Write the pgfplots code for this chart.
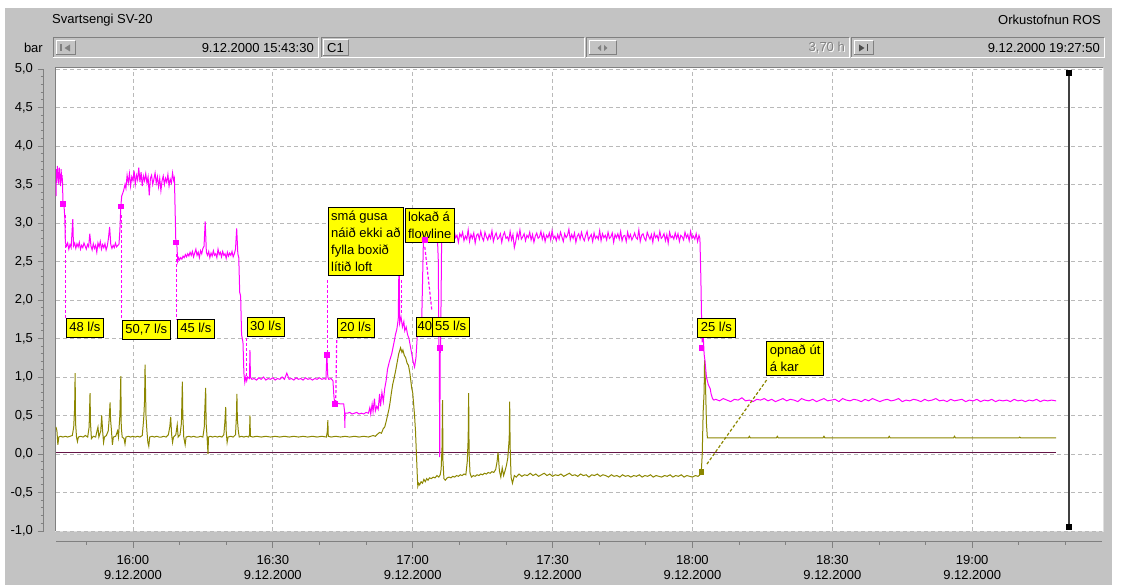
\documentclass[border=0pt]{standalone}
\usepackage{pgfplots}
\pgfplotsset{compat=1.18}
\usepackage{fontspec}
\setmainfont{Liberation Sans}
\definecolor{wgray}{RGB}{195,195,195}
\definecolor{pinkc}{RGB}{255,0,255}
\definecolor{olivec}{RGB}{140,135,0}
\definecolor{purp}{RGB}{100,20,70}
\definecolor{gridc}{RGB}{185,185,185}
\definecolor{darkg}{RGB}{128,128,128}
\definecolor{lblyel}{RGB}{255,255,0}
\newcommand\sunk[4]{\draw[darkg,line width=1pt] (#1,#4)--(#1,#2)--(#3,#2); \draw[white,line width=1pt] (#3,#2)--(#3,#4)--(#1,#4);}
\newcommand\rais[4]{\draw[white,line width=1pt] (#1,#4)--(#1,#2)--(#3,#2); \draw[darkg,line width=1pt] (#3,#2)--(#3,#4)--(#1,#4);}
\begin{document}
\begin{tikzpicture}[font=\fontsize{13}{16}\selectfont,
  lbl/.style={fill=lblyel, draw=black, line width=0.8pt, inner xsep=3pt, inner ysep=3.5pt, text height=9.5pt, text depth=2.5pt, anchor=north west},
  lblm/.style={fill=lblyel, draw=black, line width=0.8pt, inner xsep=3pt, inner ysep=3.5pt, align=left, anchor=north west, font=\fontsize{13}{17}\selectfont},
  conn/.style={line width=1.2pt, dash pattern=on 3pt off 2pt}]
\begin{scope}[x=1pt,y=-1pt,shift={(0pt,585pt)}]
 \fill[white] (0,0) rectangle (1128,585);
 \fill[wgray] (5,8) rectangle (1112,585);
 \node[anchor=west, inner sep=0pt] at (52,20) {Svartsengi SV-20};
 \node[anchor=east, inner sep=0pt] at (1101,20) {Orkustofnun ROS};
 \node[anchor=east, inner sep=0pt] at (43,48) {bar};
 % box 1
 \sunk{53}{38}{318}{58}
 \rais{56}{41}{75}{55}
 \draw[darkg, line width=1.2pt] (61,44.5)--(61,51.5);
 \fill[darkg] (70,44.5)--(64.5,48)--(70,51.5)--cycle;
 \node[anchor=east, inner sep=0pt] at (314,48) {9.12.2000 15:43:30};
 % box 2
 \sunk{321}{38}{584}{58}
 \rais{323}{40}{348}{56}
 \node[inner sep=0pt] at (335.5,48) {C1};
 % box 3
 \sunk{586}{38}{849}{58}
 \rais{589}{41}{616}{55}
 \fill[darkg] (601,45)--(597.5,48)--(601,51)--cycle;
 \fill[darkg] (604,45)--(607.5,48)--(604,51)--cycle;
 \node[anchor=east, inner sep=0pt, white] at (846,49) {3,70 h};
 \node[anchor=east, inner sep=0pt, darkg] at (845,48) {3,70 h};
 % box 4
 \sunk{851}{38}{1104}{58}
 \rais{854}{41}{873}{55}
 \fill[black!70] (859,44.5)--(864.5,48)--(859,51.5)--cycle;
 \draw[black!70, line width=1.2pt] (867.5,44.5)--(867.5,51.5);
 \node[anchor=east, inner sep=0pt] at (1100,48) {9.12.2000 19:27:50};
 % plot area
 \fill[white] (55,68) rectangle (1103,532);
 \draw[darkg,line width=1pt] (55,532)--(55,68)--(1103,68);
 \draw[gray!25,line width=1pt] (1103,68)--(1103,532)--(55,532);
\end{scope}
\begin{axis}[
  at={(56pt,54pt)}, anchor=south west, scale only axis,
  width=1046pt, height=462pt,
  xmin=43.5, xmax=267.8333, ymin=-1, ymax=5,
  clip=false,
  axis x line*=bottom, axis y line*=left,
  axis x line shift=11pt, axis y line shift=12pt,
  axis line style={darkg, line width=1pt, -},
  x axis line style={-}, y axis line style={-},
  xtick={60,90,120,150,180,210,240},
  xticklabels={{16:00\\9.12.2000},{16:30\\9.12.2000},{17:00\\9.12.2000},{17:30\\9.12.2000},{18:00\\9.12.2000},{18:30\\9.12.2000},{19:00\\9.12.2000}},
  minor xtick={50,70,80,100,110,130,140,160,170,190,200,220,230,250,260},
  ytick={-1,-0.5,0,0.5,1,1.5,2,2.5,3,3.5,4,4.5,5},
  yticklabels={{-1,0},{-0,5},{0,0},{0,5},{1,0},{1,5},{2,0},{2,5},{3,0},{3,5},{4,0},{4,5},{5,0}},
  minor y tick num=4,
  tick align=outside, major tick length=6pt, minor tick length=3pt,
  tick style={darkg, line width=0.8pt},
  tick label style={font=\fontsize{13}{15}\selectfont},
  xticklabel style={align=center, yshift=-4pt},
  yticklabel style={xshift=-1.5pt},
  grid=major,
  major grid style={gridc, line width=0.8pt, dash pattern=on 4pt off 3pt},
]
% zero reference line
\addplot[purp, line width=1pt] coordinates {(43.5,0.02) (258,0.02)};
% olive series
\addplot[olivec, line width=1pt] coordinates {
(43.5,0.35)(43.7,0.30)(43.9,0.12)(44.1,0.22)(44.5,0.23)(45.0,0.22)(45.5,0.23)(46.0,0.22)(46.5,0.23)(47.0,0.24)
(47.3,0.35)(47.5,0.60)(47.6,1.05)(47.7,0.40)(47.9,0.22)(48.1,0.16)(48.3,0.22)(48.8,0.23)(49.3,0.22)(49.8,0.24)
(50.3,0.22)(50.6,0.35)(50.8,0.79)(50.9,0.40)(51.1,0.20)(51.5,0.23)(52.0,0.22)(52.3,0.30)(52.5,0.35)(52.7,0.22)
(53.1,0.30)(53.3,0.50)(53.5,0.30)(53.7,0.15)(53.9,0.22)(54.3,0.24)(54.7,0.30)(54.9,0.45)(55.1,0.67)(55.2,0.45)
(55.4,0.30)(55.6,0.12)(55.8,0.22)(56.3,0.23)(56.7,0.30)(56.9,0.22)(57.2,0.50)(57.4,1.01)(57.5,0.35)(57.7,0.22)
(58.1,0.20)(58.3,0.13)(58.5,0.22)(59.0,0.23)(59.5,0.22)(60.0,0.23)(60.5,0.22)(61.0,0.23)(61.5,0.22)(62.0,0.24)
(62.3,0.45)(62.5,0.70)(62.6,1.16)(62.8,0.50)(63.0,0.30)(63.2,0.15)(63.4,0.10)(63.6,0.22)(64.1,0.23)(64.6,0.22)
(65.1,0.23)(65.6,0.22)(66.1,0.22)(66.6,0.23)(67.1,0.22)(67.6,0.25)(67.9,0.35)(68.1,0.48)(68.3,0.25)(68.5,0.15)
(68.7,0.22)(69.2,0.25)(69.5,0.38)(69.7,0.22)(70.1,0.25)(70.4,0.40)(70.6,0.94)(70.7,0.50)(70.9,0.22)(71.2,0.12)
(71.4,0.22)(72.0,0.23)(72.5,0.22)(73.0,0.23)(73.5,0.22)(74.0,0.22)(74.5,0.23)(75.0,0.22)(75.3,0.35)(75.4,0.55)
(75.6,0.86)(75.7,0.40)(75.9,0.22)(76.1,0.00)(76.2,0.22)(76.6,0.23)(77.1,0.22)(77.6,0.23)(78.1,0.22)(78.6,0.23)
(79.1,0.22)(79.5,0.25)(79.7,0.40)(79.9,0.61)(80.0,0.30)(80.2,0.15)(80.4,0.22)(81.0,0.23)(81.5,0.22)(82.0,0.25)
(82.2,0.50)(82.3,0.78)(82.4,0.45)(82.6,0.30)(82.8,0.22)(83.3,0.23)(83.8,0.22)(84.3,0.23)(84.8,0.22)(85.0,0.25)
(85.1,0.50)(85.2,0.23)(85.7,0.22)(86.5,0.23)(87.5,0.22)(88.5,0.23)(89.5,0.22)(90.5,0.23)(91.5,0.22)(92.5,0.23)
(93.5,0.22)(94.5,0.23)(95.5,0.22)(96.5,0.23)(97.5,0.22)(98.5,0.23)(99.5,0.22)(100.5,0.23)(101.5,0.22)(101.7,0.30)
(101.8,0.44)(101.9,0.23)(102.5,0.22)(103.5,0.23)(104.5,0.22)(105.5,0.23)(106.5,0.22)(107.5,0.23)(108.5,0.22)(109.5,0.23)
(110.5,0.22)(111.5,0.24)(112.0,0.23)(112.5,0.26)(112.9,0.28)(113.3,0.27)(113.7,0.33)(114.0,0.35)(114.3,0.42)(114.6,0.50)
(114.9,0.58)(115.1,0.65)(115.4,0.78)(115.7,0.90)(116.0,0.98)(116.4,1.10)(116.7,1.20)(117.0,1.30)(117.4,1.38)(117.7,1.32)
(117.9,1.35)(118.2,1.28)(118.5,1.25)(118.8,1.18)(119.1,1.15)(119.4,1.05)(119.6,0.95)(119.8,0.85)(120.0,0.80)(120.2,0.65)
(120.4,0.50)(120.6,0.30)(120.8,0.00)(121.0,-0.30)(121.1,-0.42)(121.3,-0.38)(121.5,-0.40)(121.8,-0.36)(122.1,-0.38)(122.4,-0.33)
(122.7,-0.36)(123.0,-0.32)(123.3,-0.34)(123.6,-0.31)(124.0,-0.32)(124.4,-0.30)(124.8,-0.31)(125.2,-0.28)(125.6,-0.30)(125.9,-0.27)
(126.1,-0.20)(126.3,0.10)(126.4,0.70)(126.5,-0.10)(126.7,-0.32)(127.0,-0.34)(127.4,-0.31)(127.8,-0.30)(128.2,-0.31)(128.6,-0.29)
(129.0,-0.30)(129.4,-0.28)(129.8,-0.29)(130.2,-0.27)(130.6,-0.28)(131.0,-0.26)(131.4,-0.27)(131.7,-0.10)(131.9,0.20)(132.0,0.79)
(132.1,0.00)(132.3,-0.25)(132.6,-0.30)(133.0,-0.28)(133.4,-0.29)(133.8,-0.27)(134.2,-0.28)(134.6,-0.26)(135.0,-0.27)(135.4,-0.25)
(135.8,-0.26)(136.2,-0.24)(136.6,-0.25)(137.0,-0.23)(137.4,-0.24)(137.8,-0.20)(138.1,-0.10)(138.3,0.02)(138.4,-0.05)(138.6,-0.22)
(138.9,-0.30)(139.2,-0.18)(139.5,-0.28)(139.8,-0.22)(140.1,-0.15)(140.4,-0.05)(140.7,0.20)(140.8,0.68)(140.9,0.10)(141.1,-0.30)
(141.4,-0.38)(141.8,-0.28)(142.2,-0.30)(142.8,-0.26)(143.4,-0.29)(144.0,-0.27)(144.6,-0.28)(145.2,-0.25)(145.8,-0.28)(146.4,-0.26)
(147.0,-0.29)(147.6,-0.27)(148.2,-0.25)(148.8,-0.28)(149.4,-0.26)(150.0,-0.29)(150.6,-0.27)(151.2,-0.28)(151.8,-0.26)(152.4,-0.29)
(153.0,-0.27)(153.6,-0.25)(154.2,-0.28)(154.8,-0.27)(155.4,-0.29)(156.0,-0.26)(156.6,-0.28)(157.2,-0.27)(157.8,-0.30)(158.4,-0.27)
(159.0,-0.28)(159.6,-0.26)(160.2,-0.29)(160.8,-0.27)(161.4,-0.28)(162.0,-0.30)(162.6,-0.27)(163.2,-0.29)(163.8,-0.28)(164.4,-0.30)
(165.0,-0.27)(165.6,-0.29)(166.2,-0.28)(166.8,-0.30)(167.4,-0.28)(168.0,-0.29)(168.6,-0.27)(169.2,-0.30)(169.8,-0.28)(170.4,-0.29)
(171.0,-0.27)(171.6,-0.30)(172.2,-0.28)(172.8,-0.29)(173.4,-0.30)(174.0,-0.28)(174.6,-0.29)(175.2,-0.27)(175.8,-0.30)(176.4,-0.28)
(177.0,-0.29)(177.6,-0.27)(178.2,-0.30)(178.8,-0.28)(179.4,-0.29)(180.0,-0.30)(180.6,-0.28)(181.2,-0.29)(181.6,-0.27)(181.9,-0.23)
(182.1,0.00)(182.3,0.55)(182.5,0.80)(182.6,1.22)(182.8,0.90)(183.0,0.40)(183.2,0.21)(186,0.21)(190,0.21)(192.0,0.21)(192.2,0.23)(192.4,0.21)
(196,0.21)(198.0,0.21)(198.2,0.23)(198.4,0.21)(202,0.21)(206,0.21)(208.0,0.21)(208.2,0.23)(208.4,0.21)(212,0.21)(216,0.21)
(220,0.21)(222.0,0.21)(222.2,0.23)(222.4,0.21)(226,0.21)(230,0.21)(234,0.21)(236.0,0.21)(236.2,0.23)(236.4,0.21)(240,0.21)
(244,0.21)(248,0.21)(250.0,0.21)(250.2,0.22)(250.4,0.21)(254,0.21)(258,0.21)
};
% pink series
\addplot[pinkc, line width=1pt] coordinates {
(43.5,3.35)(43.6,3.70)(43.7,3.52)(43.8,3.74)(43.9,3.58)(44.0,3.66)(44.1,3.50)(44.2,3.72)(44.3,3.57)(44.4,3.63)
(44.5,3.48)(44.6,3.70)(44.7,3.55)(44.8,3.62)(44.9,3.52)(45.0,3.25)(45.2,3.25)(45.4,3.05)(45.5,2.75)
(45.75,2.70)(46.0,2.74)(46.25,2.66)(46.5,2.72)(46.75,2.68)(47.0,2.95)(47.1,3.05)(47.25,2.70)(47.5,2.74)(47.75,2.67)
(48.0,2.73)(48.25,2.69)(48.5,2.75)(48.75,2.66)(49.0,2.71)(49.25,2.68)(49.5,2.74)(49.75,2.70)(50.0,2.66)(50.25,2.72)
(50.5,2.69)(50.75,2.86)(51.0,2.70)(51.25,2.65)(51.5,2.73)(51.75,2.67)(52.0,2.71)(52.25,2.62)(52.5,2.74)(52.75,2.69)
(53.0,2.76)(53.25,2.66)(53.5,2.72)(53.75,2.68)(54.0,2.73)(54.25,2.65)(54.5,2.70)(54.75,2.80)(55.0,2.95)(55.25,2.72)
(55.5,2.67)(55.75,2.71)(56.0,2.68)(56.25,2.74)(56.5,2.69)(56.75,2.71)(57.0,2.72)
(57.2,2.90)(57.4,3.22)(57.6,3.35)(58.0,3.42)(58.3,3.50)
(58.5,3.45)(58.75,3.62)(59.0,3.52)(59.25,3.64)(59.5,3.48)(59.75,3.60)(60.0,3.55)(60.25,3.68)(60.5,3.50)(60.75,3.62)
(61.0,3.56)(61.25,3.72)(61.5,3.53)(61.75,3.66)(62.0,3.48)(62.25,3.61)(62.5,3.55)(62.75,3.64)(63.0,3.52)(63.25,3.60)
(63.5,3.36)(63.75,3.58)(64.0,3.62)(64.25,3.50)(64.5,3.57)(64.75,3.65)(65.0,3.52)(65.25,3.60)(65.5,3.47)(65.75,3.58)
(66.0,3.42)(66.25,3.55)(66.5,3.61)(66.75,3.50)(67.0,3.58)(67.25,3.53)(67.5,3.63)(67.75,3.48)(68.0,3.57)(68.25,3.52)
(68.5,3.65)(68.75,3.55)(68.9,3.58)
(69.0,3.30)(69.2,2.75)(69.4,2.75)(69.6,2.50)(69.8,2.55)
(70.0,2.52)(70.25,2.55)(70.5,2.53)(70.75,2.57)(71.0,2.55)(71.25,2.59)(71.5,2.56)(71.75,2.60)(72.0,2.57)(72.25,2.62)
(72.5,2.58)(72.75,2.63)(73.0,2.56)(73.25,2.61)(73.5,2.66)(73.75,2.58)(74.0,2.62)(74.25,2.55)(74.5,2.64)(74.75,2.60)
(75.0,2.67)(75.25,2.70)(75.5,3.02)(75.75,2.62)(76.0,2.58)(76.25,2.63)(76.5,2.55)(76.75,2.61)(77.0,2.57)(77.25,2.64)
(77.5,2.58)(77.75,2.60)(78.0,2.55)(78.25,2.66)(78.5,2.59)(78.75,2.62)(79.0,2.56)(79.25,2.63)(79.5,2.58)(79.75,2.60)
(80.0,2.54)(80.25,2.62)(80.5,2.57)(80.75,2.61)(81.0,2.58)(81.25,2.63)(81.5,2.56)(81.75,2.60)(82.0,2.66)(82.25,2.93)
(82.5,2.60)
(82.7,2.55)(82.9,2.10)(83.1,2.05)(83.3,1.55)(83.6,1.45)(83.8,1.05)(84.0,0.93)(84.2,1.00)(84.4,0.95)(84.6,1.00)
(85.0,0.98)(85.1,1.35)(85.2,1.00)(85.5,0.97)
(86,0.98)(86.5,0.96)(87,0.99)(87.5,0.97)(88,1.00)(88.5,0.96)(89,0.98)(89.5,0.97)(90,0.99)(90.5,0.96)
(91,0.98)(91.5,0.97)(92,1.00)(92.5,0.97)(93.0,1.05)(93.5,0.97)(94,0.98)(94.5,0.96)(95,0.99)(95.5,0.97)
(96,0.98)(96.5,0.96)(97,0.99)(97.5,0.97)(98,0.98)(98.5,0.96)(99,0.98)(99.5,0.97)(100,0.99)(100.5,0.97)
(101,0.98)(101.4,0.97)
(101.5,1.15)(101.6,1.29)(101.8,1.00)(102.0,0.97)(102.5,0.98)(102.9,0.95)(103.1,0.75)(103.3,0.65)(103.8,0.66)(104.5,0.65)
(105.2,0.65)(105.4,0.55)(105.45,0.34)(105.5,0.53)(106.0,0.53)
(106.5,0.54)(107,0.52)(107.5,0.53)(108,0.54)(108.5,0.52)(109,0.53)(109.5,0.52)(110,0.54)(110.5,0.53)(110.8,0.60)
(111.0,0.52)(111.3,0.65)(111.5,0.55)(111.8,0.72)(112.0,0.56)(112.3,0.62)(112.6,0.58)(112.9,0.78)(113.1,0.62)(113.4,0.80)
(113.7,0.68)
(114.0,0.85)(114.3,0.95)(114.6,1.10)(115.0,1.20)(115.5,1.30)(116.0,1.45)(116.3,1.55)(116.6,1.62)(116.9,1.75)(117.1,2.70)
(117.2,1.70)(117.5,1.78)(117.8,1.65)(118.1,1.72)(118.3,1.60)(118.6,1.65)(118.9,1.55)(119.2,1.50)(119.5,1.40)(119.8,1.30)
(120.1,1.20)(120.4,1.13)(120.7,1.25)(121.0,1.55)(121.3,1.60)(121.6,1.55)(121.9,1.62)(122.1,2.20)(122.3,2.78)(122.6,2.78)
(122.9,2.80)(123.2,2.84)(123.5,2.80)(123.8,2.86)(124.1,2.82)(124.4,2.85)(124.7,2.79)(125.0,2.84)(125.3,2.81)(125.5,2.50)
(125.6,1.45)(125.7,1.35)(125.8,-0.04)(125.9,1.30)(126.0,1.45)(126.2,2.75)
(126.5,2.85)(126.8,2.78)(127.1,2.88)(127.4,2.80)(127.7,2.83)(128.0,2.76)(128.3,2.87)(128.6,2.79)(128.9,2.90)(129.2,2.81)
(129.5,2.84)(129.8,2.75)(130.1,2.86)(130.4,2.82)(130.7,2.88)(131.0,2.77)(131.3,2.83)(131.6,2.79)(131.9,2.91)(132.2,2.76)
(132.5,2.85)(132.8,2.80)(133.1,2.87)(133.4,2.74)(133.7,2.84)(134.0,2.86)(134.3,2.79)(134.6,2.89)(134.9,2.81)(135.2,2.77)
(135.5,2.88)(135.8,2.82)(136.1,2.78)(136.4,2.85)(136.7,2.80)(137.0,2.90)(137.3,2.76)(137.6,2.83)(137.9,2.87)(138.2,2.79)
(138.5,2.81)(138.8,2.86)(139.1,2.75)(139.4,2.84)(139.7,2.88)(140.0,2.80)(140.3,2.82)(140.6,2.77)(140.9,2.89)(141.2,2.78)
(141.5,2.85)(141.8,2.68)(142.1,2.76)(142.4,2.87)(142.7,2.80)(143.0,2.91)(143.3,2.79)(143.6,2.82)(143.9,2.86)(144.2,2.77)
(144.5,2.84)(144.8,2.81)(145.1,2.88)(145.4,2.78)(145.7,2.85)(146.0,2.75)(146.3,2.83)(146.6,2.87)(146.9,2.80)(147.2,2.82)
(147.5,2.89)(147.8,2.79)(148.1,2.86)(148.4,2.76)(148.7,2.84)(149.0,2.81)(149.3,2.87)(149.6,2.78)(149.9,2.90)(150.2,2.80)
(150.5,2.83)(150.8,2.77)(151.1,2.85)(151.4,2.79)(151.7,2.88)(152.0,2.82)(152.3,2.76)(152.6,2.86)(152.9,2.81)(153.2,2.84)
(153.5,2.92)(153.8,2.78)(154.1,2.85)(154.4,2.80)(154.7,2.87)(155.0,2.75)(155.3,2.83)(155.6,2.86)(155.9,2.79)(156.2,2.88)
(156.5,2.81)(156.8,2.77)(157.1,2.84)(157.4,2.89)(157.7,2.78)(158.0,2.82)(158.3,2.85)(158.6,2.76)(158.9,2.87)(159.2,2.80)
(159.5,2.83)(159.8,2.79)(160.1,2.90)(160.4,2.77)(160.7,2.86)(161.0,2.81)(161.3,2.84)(161.6,2.78)(161.9,2.88)(162.2,2.80)
(162.5,2.82)(162.8,2.87)(163.1,2.75)(163.4,2.85)(163.7,2.81)(164.0,2.86)(164.3,2.79)(164.6,2.89)(164.9,2.77)(165.2,2.83)
(165.5,2.84)(165.8,2.76)(166.1,2.88)(166.4,2.80)(166.7,2.85)(167.0,2.78)(167.3,2.82)(167.6,2.87)(167.9,2.81)(168.2,2.79)
(168.5,2.91)(168.8,2.76)(169.1,2.84)(169.4,2.86)(169.7,2.80)(170.0,2.77)(170.3,2.88)(170.6,2.83)(170.9,2.79)(171.2,2.85)
(171.5,2.75)(171.8,2.87)(172.1,2.81)(172.4,2.84)(172.7,2.78)(173.0,2.89)(173.3,2.80)(173.6,2.82)(173.9,2.86)(174.2,2.77)
(174.5,2.85)(174.8,2.74)(175.1,2.88)(175.4,2.81)(175.7,2.83)(176.0,2.79)(176.3,2.87)(176.6,2.80)(176.9,2.86)(177.2,2.76)
(177.5,2.84)(177.8,2.82)(178.1,2.78)(178.4,2.88)(178.7,2.81)(179.0,2.85)(179.3,2.77)(179.6,2.89)(179.9,2.80)(180.2,2.83)
(180.5,2.79)(180.8,2.86)(181.1,2.76)(181.4,2.84)
(181.6,2.80)(181.8,2.30)(182.0,1.60)(182.1,1.45)(182.3,1.55)(182.5,1.30)(182.7,1.20)(183.0,1.00)(183.4,0.90)(183.8,0.85)
(184.0,0.78)(184.3,0.72)(184.6,0.70)
(185.0,0.71)(185.8,0.69)(186.6,0.72)(187.4,0.70)(188.2,0.68)(189.0,0.71)(189.8,0.70)(190.6,0.73)(191.4,0.69)(192.2,0.70)
(193.0,0.68)(193.8,0.71)(194.6,0.70)(195.4,0.72)(196.2,0.69)(197.0,0.71)(197.8,0.68)(198.6,0.70)(199.4,0.72)(200.2,0.69)
(201.0,0.71)(201.8,0.70)(202.6,0.68)(203.4,0.72)(204.2,0.70)(205.0,0.69)(205.8,0.71)(206.6,0.68)(207.4,0.70)(208.2,0.72)
(209.0,0.69)(209.8,0.70)(210.6,0.71)(211.4,0.68)(212.2,0.72)(213.0,0.70)(213.8,0.69)(214.6,0.71)(215.4,0.70)(216.2,0.68)
(217.0,0.71)(217.8,0.69)(218.6,0.72)(219.4,0.70)(220.2,0.68)(221.0,0.70)(221.8,0.71)(222.6,0.69)(223.4,0.70)(224.2,0.72)
(225.0,0.68)(225.8,0.70)(226.6,0.69)(227.4,0.71)(228.2,0.70)(229.0,0.68)(229.8,0.71)(230.6,0.69)(231.4,0.70)(232.2,0.72)
(233.0,0.69)(233.8,0.70)(234.6,0.68)(235.4,0.71)(236.2,0.69)(237.0,0.70)(237.8,0.71)(238.6,0.68)(239.4,0.70)(240.2,0.69)
(241.0,0.71)(241.8,0.68)(242.6,0.70)(243.4,0.69)(244.2,0.71)(245.0,0.68)(245.8,0.70)(246.6,0.69)(247.4,0.70)(248.2,0.68)
(249.0,0.71)(249.8,0.69)(250.6,0.70)(251.4,0.68)(252.2,0.70)(253.0,0.69)(253.8,0.71)(254.6,0.68)(255.4,0.70)(256.2,0.69)
(257.0,0.70)(258.0,0.69)
};
% markers
\addplot[pinkc, only marks, mark=square*, mark size=2.3pt] coordinates {(45.0,3.25)(57.4,3.22)(69.2,2.75)(101.6,1.29)(103.3,0.65)(122.6,2.78)(125.8,1.38)(181.9,1.38)};
\addplot[olivec, only marks, mark=square*, mark size=2.3pt] coordinates {(181.9,-0.23)};
% dashed connectors
\draw[pinkc, conn] (axis cs:45.55,3.1) -- (axis cs:45.55,1.77);
\draw[pinkc, conn] (axis cs:57.6,3.1) -- (axis cs:57.6,1.74);
\draw[pinkc, conn] (axis cs:69.4,2.6) -- (axis cs:69.4,1.75);
\draw[pinkc, conn] (axis cs:84.4,1.50) -- (axis cs:84.4,1.0);
\draw[pinkc, conn] (axis cs:103.7,1.48) -- (axis cs:103.5,0.68);
\draw[pinkc, conn] (axis cs:101.8,2.26) -- (axis cs:101.8,1.3);
\draw[pinkc, conn] (axis cs:117.6,2.26) -- (axis cs:117.6,1.83);
\draw[pinkc, conn] (axis cs:122.6,2.69) -- (axis cs:124.1,1.87);
\draw[olivec, conn] (axis cs:195.9,0.96) -- (axis cs:183.0,-0.14);
% labels
\node[lbl] at (axis cs:45.64,1.766) {48 l/s};
\node[lbl] at (axis cs:57.64,1.740) {50,7 l/s};
\node[lbl] at (axis cs:69.43,1.753) {45 l/s};
\node[lbl] at (axis cs:84.43,1.779) {30 l/s};
\node[lbl] at (axis cs:103.71,1.766) {20 l/s};
\node[lblm] at (axis cs:101.79,3.208) {smá gusa\\náið ekki að\\fylla boxið\\lítið loft};
\node[lblm] at (axis cs:118.28,3.195) {lokað á\\flowline};
\node[lbl, inner xsep=1.5pt] at (axis cs:120.64,1.779) {40};
\node[lbl] at (axis cs:124.07,1.779) {55 l/s};
\node[lbl] at (axis cs:181.07,1.766) {25 l/s};
\node[lblm] at (axis cs:195.86,1.468) {opnað út\\á kar};
% cursor
\draw[black!75, line width=1.5pt] (axis cs:260.78,4.95) -- (axis cs:260.78,-0.95);
\fill[black] (axis cs:260.78,4.95) ++(-3pt,-3pt) rectangle ++(6pt,6pt);
\fill[black] (axis cs:260.78,-0.95) ++(-3pt,-3pt) rectangle ++(6pt,6pt);
\end{axis}
\pgfresetboundingbox
\useasboundingbox (0,0) rectangle (1128pt,585pt);
\end{tikzpicture}
\end{document}
